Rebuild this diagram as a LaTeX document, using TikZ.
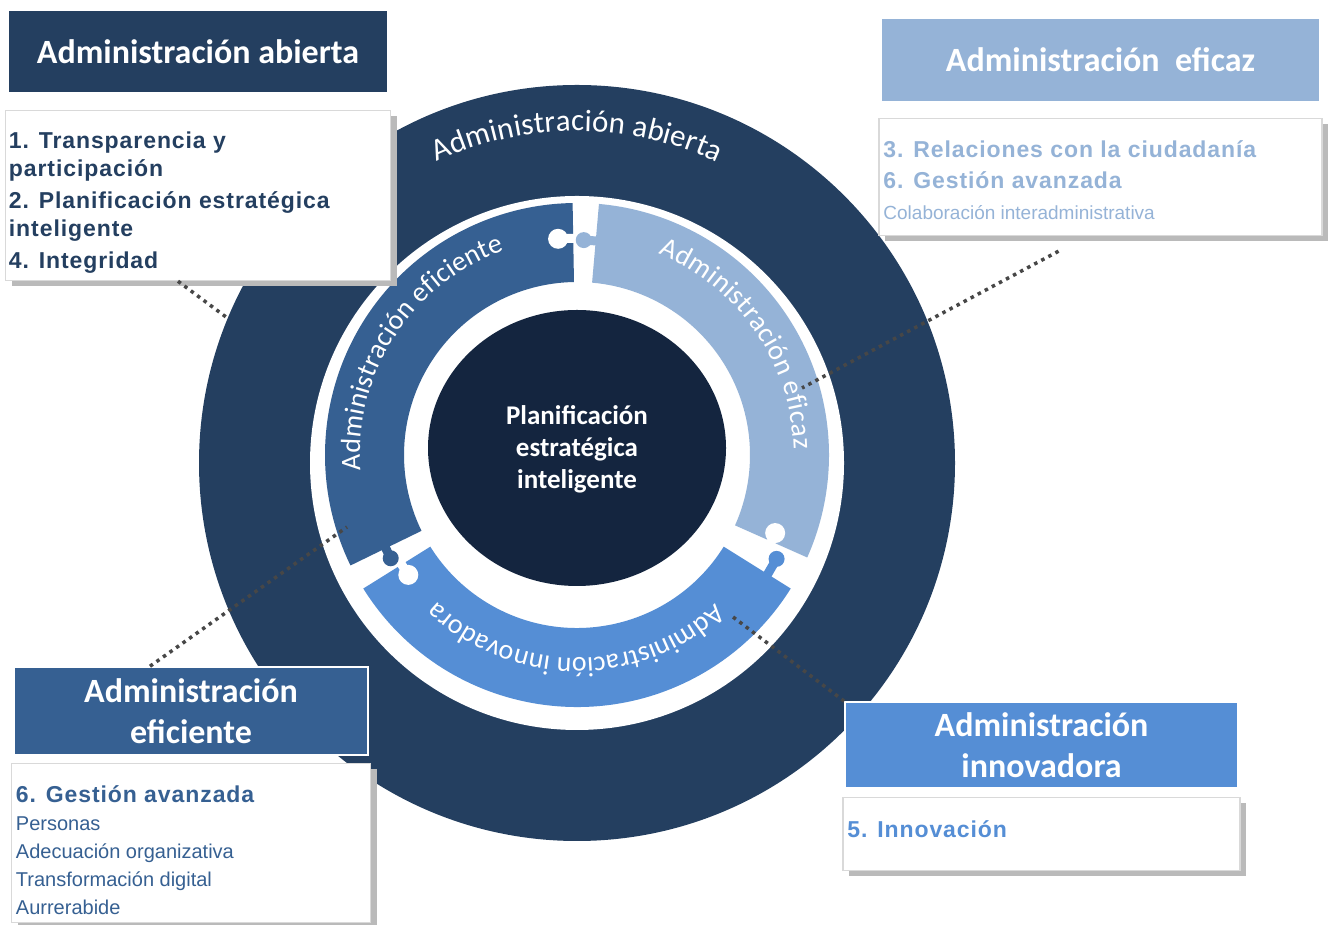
\documentclass[tikz,border=0pt]{standalone}
\usepackage{fontspec}
\setmainfont{Liberation Sans}
\newfontfamily\carlito{Carlito}
\newfontfamily\itemfont[LetterSpace=4]{Liberation Sans}
\newfontfamily\subfont{Liberation Sans}
\usetikzlibrary{decorations.text,positioning,shadows}
\definecolor{navy}{HTML}{243F60}
\definecolor{deepnavy}{HTML}{14253F}
\definecolor{efblue}{HTML}{366092}
\definecolor{eflight}{HTML}{95B3D7}
\definecolor{inblue}{HTML}{558ED5}

\begin{document}
\begin{tikzpicture}
[x=1pt, y=1pt,
title/.style={draw=white, line width=1.5pt, text=white, align=center, inner sep=0pt,
  font=\carlito\bfseries\fontsize{34}{41}\selectfont},
itembox/.style={draw=black!15, line width=1.5pt, fill=white,
  drop shadow={shadow xshift=6pt, shadow yshift=-6pt, fill=black!27, opacity=1}},
itemtext/.style={anchor=north west, inner sep=0pt, align=left,
  font=\itemfont\bfseries\fontsize{23}{28}\selectfont},
dotline/.style={draw=black!72, line width=3.5pt, dash pattern=on 3.5pt off 4.5pt},
ring/.style 2 args={decorate, decoration={text along path, text align={fit to path},
  text color=white, text={|\carlito\fontsize{#1}{#1}\selectfont|#2}}}]

\path[use as bounding box, fill=white] (0,0) rectangle (1335,925);

\fill[navy] (577,462) circle[radius=378];
\fill[white] (577,462) circle[radius=267];

\begin{scope}[shift={(577,470)}]
\fill[efblue] (91:252) arc[start angle=91, end angle=206, radius=252]
  -- (206:173) arc[start angle=206, end angle=91, radius=173] -- cycle;
\fill[eflight] (-24:252) arc[start angle=-24, end angle=85, radius=252]
  -- (85:173) arc[start angle=85, end angle=-24, radius=173] -- cycle;
\fill[inblue] (212:252) arc[start angle=212, end angle=328, radius=252]
  -- (328:173) arc[start angle=328, end angle=212, radius=173] -- cycle;
\fill[white] (95:217) circle[radius=10];
\draw[white, line width=9pt] (95:217) -- (89:217);
\fill[eflight] (88.2:215) circle[radius=8];
\draw[eflight, line width=9pt] (88.2:215) -- (84:215);
\fill[white] (-21.5:213) circle[radius=10];
\draw[white, line width=9pt] (-21.5:213) -- (-27:213);
\fill[inblue] (-27.5:225) circle[radius=8];
\draw[inblue, line width=9pt] (-27.5:225) -- (-33:225);
\fill[white] (215.4:207) circle[radius=10];
\draw[white, line width=9pt] (215.4:207) -- (210:207);
\fill[efblue] (209:213) circle[radius=8];
\draw[efblue, line width=9pt] (209:213) -- (204:213);
\path[ring={28}{Administración eficiente}] (184:217) arc[start angle=184, end angle=109.5, radius=217];
\path[ring={28}{Administración eficaz}] (68:217) arc[start angle=68, end angle=1.5, radius=217];
\path[ring={28}{Administración innovadora}] (-47:203) arc[start angle=-47, end angle=-133.5, radius=203];
\end{scope}

\path[ring={31}{Administración abierta}] ([shift={(115:332)}]577,462) arc[start angle=115, end angle=65, radius=332];

\fill[deepnavy] (577,477) ellipse[x radius=149, y radius=138];
\node[text=white, align=center, font=\carlito\bfseries\fontsize{27}{32}\selectfont] (core) at (577,476)
  {Planificación\\estratégica\\inteligente};

\node[title, fill=navy, minimum width=380pt, minimum height=83pt] (abiertatitle) at (198,873.5) {Administración abierta};
\node[title, fill=eflight, minimum width=439pt, minimum height=84pt] (eficaztitle) at (1100.5,865) {Administración\ \ eficaz};
\node[title, fill=efblue, minimum width=354pt, minimum height=88pt] (eficientetitle) at (191,214) {Administración\\eficiente};
\node[title, fill=inblue, minimum width=393pt, minimum height=86pt] (innovadoratitle) at (1041.5,180) {Administración\\innovadora};

\node[itembox, minimum width=385pt, minimum height=170pt, below=16pt of abiertatitle] (abiertabody) {};
\node[itembox, minimum width=443pt, minimum height=117pt, below=15pt of eficaztitle] (eficazbody) {};
\node[itembox, minimum width=359pt, minimum height=159pt, below=7pt of eficientetitle] (eficientebody) {};
\node[itembox, minimum width=397pt, minimum height=73pt, below=8pt of innovadoratitle] (innovadorabody) {};

\node[itemtext, text=navy] (abiertaitems) at ([xshift=4pt, yshift=-22pt]abiertabody.north west)
  {1. Transparencia y\\participación\\[4pt]2. Planificación estratégica\\inteligente\\[4pt]4. Integridad};
\node[itemtext, text=eflight, font=\itemfont\bfseries\fontsize{23}{31}\selectfont] (eficazitems) at ([xshift=5pt, yshift=-23pt]eficazbody.north west)
  {3. Relaciones con la ciudadanía\\6. Gestión avanzada\\{\subfont\mdseries\fontsize{19}{31}\selectfont Colaboración interadministrativa}};
\node[itemtext, text=efblue, font=\subfont\fontsize{20}{28}\selectfont] (eficienteitems) at ([xshift=5pt, yshift=-23pt]eficientebody.north west)
  {{\itemfont\bfseries\fontsize{23}{28}\selectfont 6. Gestión avanzada}\\Personas\\Adecuación organizativa\\Transformación digital\\Aurrerabide};
\node[itemtext, text=inblue] (innovadoraitems) at ([xshift=5pt, yshift=-24pt]innovadorabody.north west) {5. Innovación};

\coordinate (abiertaend) at (226,608);
\coordinate (eficazend) at (802,537);
\coordinate (eficienteend) at (347,398);
\coordinate (innovadoraend) at (733,308);
\draw[dotline] ([xshift=-20pt]abiertabody.south) -- (abiertaend);
\draw[dotline] ([xshift=-42pt, yshift=-15pt]eficazbody.south) -- (eficazend);
\draw[dotline] ([xshift=-41pt]eficientetitle.north) -- (eficienteend);
\draw[dotline] (innovadoratitle.north west) -- (innovadoraend);
\end{tikzpicture}
\end{document}
